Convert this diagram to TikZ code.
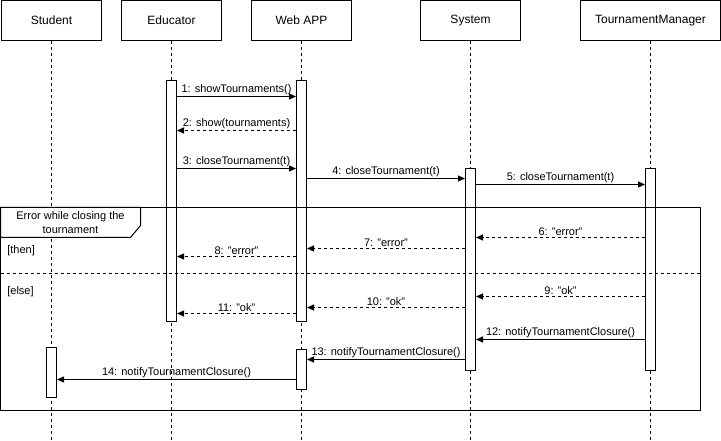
\documentclass[tikz,border=0pt]{standalone}
\usepackage{fontspec}
\setmainfont{Liberation Sans}
\usetikzlibrary{arrows.meta}

\begin{document}
\begin{tikzpicture}[x=1pt,y=-1pt,line width=1pt,font=\fontsize{11}{13}\selectfont,
    life/.style={dash pattern=on 3pt off 3pt},
    msg/.style={-{Triangle[length=7pt,width=6pt]}},
    ret/.style={msg,dash pattern=on 3pt off 3pt}]
  \useasboundingbox (0,0) rectangle (721,441);
  \begin{scope}[shift={(0.5,0.5)}]
  % participants and lifelines
  \foreach \name/\pos/\boxw/\txt in
{{stu/(51,20)/100/Student},{edu/(171,20)/100/Educator},{web/(301,20)/100/Web APP},{sys/(470,20)/100/System},{tm/(650,20)/140/TournamentManager}}
    {\node[draw,fill=white,minimum width=\boxw pt,minimum height=40pt,inner sep=0pt,
      font=\fontsize{12}{14}\selectfont] (\name) at \pos {\txt};
     \coordinate (\name end) at (\name.south |- 0,441);
     \draw[life] (\name) -- (\name end);}
  % activations
  \foreach \name/\x/\ya/\yb in
{eduA/171/80/321,webA/301/80/321,sysA/470/168/370,tmA/650/168/370,stuA/51/347/397,webB/301/349/389}
    \node[draw,fill=white,minimum width=10pt,minimum height={(\yb-\ya)*1pt},inner sep=0pt]
      (\name) at (\x,{(\ya+\yb)/2}) {};
  % alt frame
  \draw (0,207) rectangle (700,410);
  \draw[fill=white] (0,207) -- (140,207) -- (140,225) -- (130,237) -- (0,237) -- cycle;
  \node[align=center,font=\fontsize{11}{14.5}\selectfont] (cond) at (70,222) {Error while closing the\\tournament};
  \draw[life] (0,273) -- (700,273);
  \node[anchor=west] (thenlbl) at (3,250) {[then]};
  \node[anchor=west] (elselbl) at (3,291) {[else]};
  % messages
  \foreach \src/\tgt/\y/\kind/\lbl in
{{eduA.east/webA.west/96/msg/1: showTournaments()},
 {webA.west/eduA.east/130/ret/2: show(tournaments)},
 {eduA.east/webA.west/168/msg/3: closeTournament(t)},
 {webA.east/sysA.west/178/msg/4: closeTournament(t)},
 {sysA.east/tmA.west/184/msg/5: closeTournament(t)},
 {tmA.west/sysA.east/237/ret/6: "error"},
 {sysA.west/webA.east/248/ret/7: "error"},
 {webA.west/eduA.east/256/ret/8: "error"},
 {tmA.west/sysA.east/296/ret/9: "ok"},
 {sysA.west/webA.east/307/ret/10: "ok"},
 {webA.west/eduA.east/313/ret/11: "ok"},
 {tmA.west/sysA.east/339/msg/12: notifyTournamentClosure()},
 {sysA.west/webB.east/359/msg/13: notifyTournamentClosure()},
 {webB.west/stuA.east/379/msg/14: notifyTournamentClosure()}}
    \draw[\kind] (\src |- 0,\y) -- node[above,inner sep=1.5pt] {\lbl} (\tgt |- 0,\y);
  \end{scope}
\end{tikzpicture}
\end{document}
